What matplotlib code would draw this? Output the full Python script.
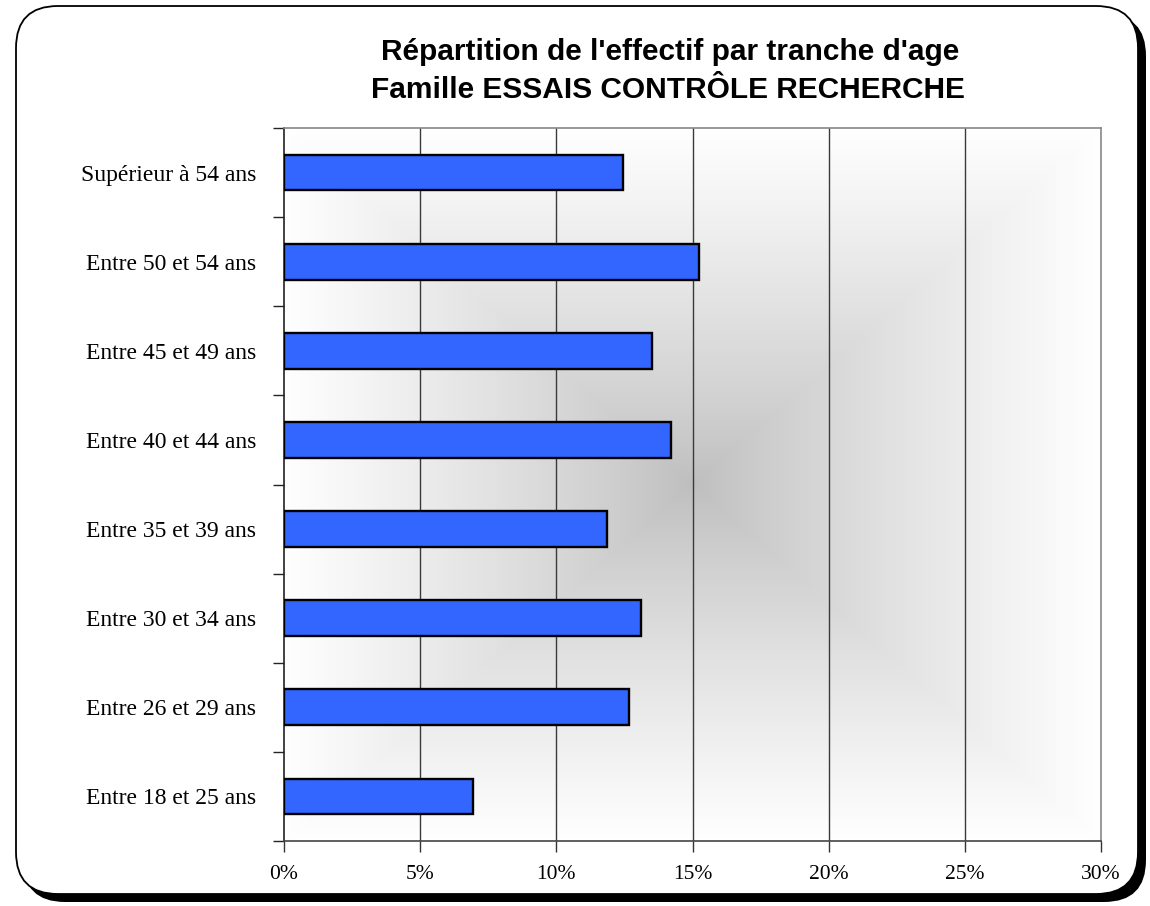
import numpy as np
import matplotlib.pyplot as plt
from matplotlib.patches import FancyBboxPatch

## data ##
categories = ['Entre 18 et 25 ans', 'Entre 26 et 29 ans', 'Entre 30 et 34 ans',
              'Entre 35 et 39 ans', 'Entre 40 et 44 ans', 'Entre 45 et 49 ans',
              'Entre 50 et 54 ans', 'Supérieur à 54 ans']
values = [6.95, 12.67, 13.10, 11.85, 14.22, 13.50, 15.25, 12.46]  # % of staff
xticks = [0, 5, 10, 15, 20, 25, 30]
xtick_labels = ['0%', '5%', '10%', '15%', '20%', '25%', '30%']

title1 = "Répartition de l'effectif par tranche d'age"
title2 = "Famille ESSAIS CONTRÔLE RECHERCHE"

W, H = 1150, 906
fig = plt.figure(figsize=(W / 100, H / 100), dpi=100)

# background with rounded frame and shadow (pixel coordinates)
bg = fig.add_axes([0, 0, 1, 1])
bg.set_xlim(0, W)
bg.set_ylim(H, 0)
bg.axis('off')
shadow = FancyBboxPatch((23, 14), 1123, 888, boxstyle='round,pad=0,rounding_size=42',
                        facecolor='black', edgecolor='black', lw=0)
frame = FancyBboxPatch((16, 6), 1122, 888, boxstyle='round,pad=0,rounding_size=42',
                       facecolor='white', edgecolor='black', lw=1.3)
bg.add_patch(shadow)
bg.add_patch(frame)

# plot area
ax = fig.add_axes([284 / W, 1 - 841 / H, (1101 - 284) / W, (841 - 128) / H])
ax.patch.set_alpha(0)

# "from centre" grey gradient
nx, ny = 400, 400
gx = np.linspace(-1, 1, nx)
gy = np.linspace(-1, 1, ny)
GX, GY = np.meshgrid(gx, gy)
t = np.maximum(np.abs(GX), np.abs(GY))
shade = 0.745 + 0.255 * t ** 0.85
img = np.dstack([shade, shade, shade])
ax.imshow(img, extent=[0, 30, -0.5, len(categories) - 0.5], aspect='auto',
          zorder=0, interpolation='bilinear')

ypos = np.arange(len(categories))
for x in xticks[1:-1]:
    ax.axvline(x, color='#3a3a3a', lw=1.0, zorder=1)

ax.barh(ypos, values, height=0.4, color='#3366FF', edgecolor='black',
        linewidth=1.7, zorder=3)

ax.set_xlim(0, 30)
ax.set_ylim(-0.5, len(categories) - 0.5)
ax.set_xticks(xticks)
ax.set_xticklabels(xtick_labels, family='Liberation Serif', fontsize=15.5)
ax.set_yticks(ypos)
ax.set_yticklabels(categories, family='Liberation Serif', fontsize=17)
ax.set_yticks(np.arange(-0.5, len(categories), 1), minor=True)
ax.tick_params(axis='y', which='major', length=0, pad=20)
ax.tick_params(axis='y', which='minor', length=8, width=1, color='#222222', direction='out')
ax.tick_params(axis='x', length=8, width=1, color='#333333', direction='out', pad=9)

ax.spines['left'].set_color('#222222')
ax.spines['bottom'].set_color('#444444')
ax.spines['top'].set_color('#888888')
ax.spines['right'].set_color('#888888')
for s in ax.spines.values():
    s.set_linewidth(1.2)

fig.text(670 / W, 1 - 59.5 / H, title1, ha='center', va='baseline',
         family='Liberation Sans', weight='bold', fontsize=21.5)
fig.text(668 / W, 1 - 98 / H, title2, ha='center', va='baseline',
         family='Liberation Sans', weight='bold', fontsize=21.5)

fig.savefig('out.png', dpi=100)
